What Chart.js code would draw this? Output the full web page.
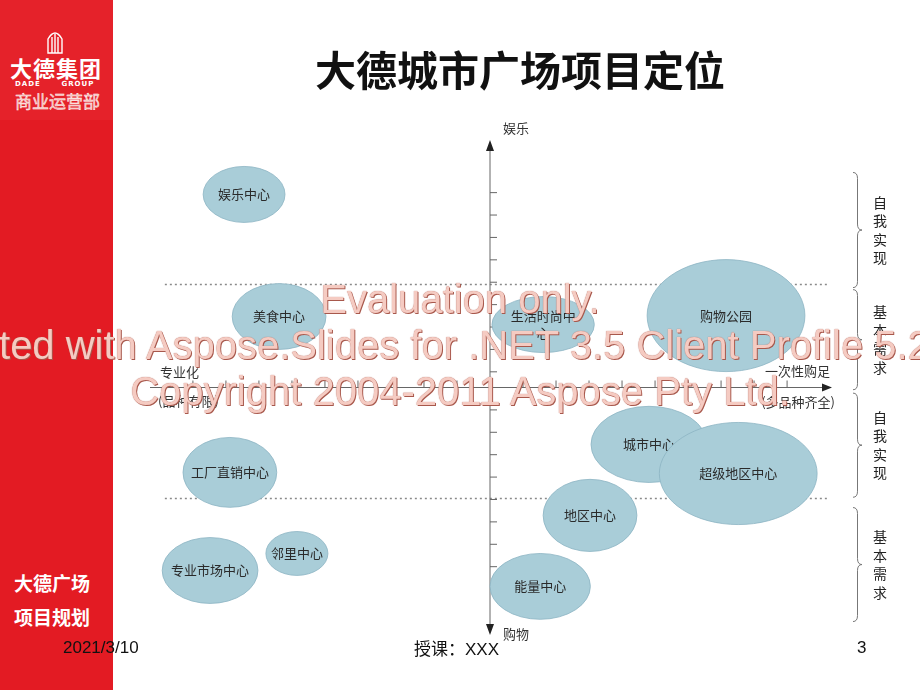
<!DOCTYPE html>
<html>
<head>
<meta charset="utf-8">
<script src="https://cdn.jsdelivr.net/npm/chart.js@4.4.0/dist/chart.umd.min.js"></script>
<style>
  body { margin: 0; background: #fff; }
  #page { position: relative; width: 920px; height: 690px; overflow: hidden; background: #fff; font-family: "Noto Sans CJK SC", sans-serif; }
  #sidebar { position: absolute; left: 0; top: 0; width: 113px; height: 690px; background: #e31b23; }
  #logo { position: absolute; left: 0; top: 0; width: 113px; height: 120px; background: #e5222a; }
  .side-txt { position: absolute; color: #fff; font-weight: bold; line-height: 1; white-space: nowrap; }
  #chart { position: absolute; left: 0; top: 0; }
  #title { position: absolute; left: 0; width: 920px; top: 43px; padding-left: 120px; box-sizing: border-box; text-align: center; font-size: 41px; font-weight: bold; color: #111; line-height: 50px; }
  .foot { position: absolute; top: 636px; font-size: 17px; color: #111; line-height: 24px; font-family: "Liberation Sans", Arial, sans-serif; }
  #watermark { position: absolute; left: -300px; width: 1520px; top: 276px; text-align: center; font-family: "Liberation Sans", Arial, sans-serif; font-size: 40px; line-height: 46px; color: #f5cbc2; text-shadow: 1px 1px 0 #a8584c, 0 0 1px #a8584c; pointer-events: none; white-space: nowrap; }
</style>
</head>
<body>
<div id="page">
  <div id="sidebar"></div>
  <div id="logo">
    <svg width="113" height="120" style="position:absolute;left:0;top:0">
      <g stroke="#fff" stroke-width="1.4" fill="none">
        <path d="M48 53 L48 39 Q55 27 62 39 L62 53 Z"/>
        <line x1="52" y1="37" x2="52" y2="53"/><line x1="55" y1="34" x2="55" y2="53"/><line x1="58" y1="37" x2="58" y2="53"/>
      </g>
    </svg>
    <div class="side-txt" style="left:10px;top:56px;font-size:22px;letter-spacing:1px;">大德集团</div>
    <div class="side-txt" style="left:15px;top:81px;font-size:7px;letter-spacing:1px;font-family:'DejaVu Sans';">DADE&nbsp;&nbsp;&nbsp;&nbsp;&nbsp;&nbsp;GROUP</div>
    <div class="side-txt" style="left:15px;top:92px;font-size:17px;font-weight:normal;color:#f3b7b2;-webkit-text-stroke:0.4px #fff;">商业运营部</div>
  </div>
  <div class="side-txt" style="left:14px;top:573px;font-size:19px;">大德广场</div>
  <div class="side-txt" style="left:14px;top:607px;font-size:19px;">项目规划</div>
  <canvas id="chart" width="920" height="690"></canvas>
  <div id="title">大德城市广场项目定位</div>
  <div class="foot" style="left:63px;">2021/3/10</div>
  <div class="foot" style="left:414px;font-family:'Noto Sans CJK SC';">授课：<span style="font-family:'Liberation Sans'">XXX</span></div>
  <div class="foot" style="left:857px;">3</div>
  <div id="watermark">Evaluation only.<br>Created with Aspose.Slides for .NET 3.5 Client Profile 5.2.0.0.<br>Copyright 2004-2011 Aspose Pty Ltd.</div>
</div>
<script>
// Positioning map data (axis units: x = 专业化 <-> 一次性购足, y = 购物 <-> 娱乐)
const centerNames = ['娱乐中心', '美食中心', '生活时尚中\n心', '购物公园', '城市中心', '超级地区中心', '地区中心', '能量中心', '工厂直销中心', '专业市场中心', '邻里中心'];
const centerX = [-7.45, -6.39, 1.61, 7.15, 4.82, 7.52, 3.03, 1.52, -7.88, -8.48, -5.85];
const centerY = [8.62, 3.17, 2.81, 3.21, -2.54, -3.84, -5.71, -8.88, -3.79, -8.17, -7.41];
const halfW = [1.24, 1.42, 1.55, 2.39, 1.76, 2.39, 1.42, 1.52, 1.42, 1.45, 0.94];
const halfH = [1.25, 1.47, 1.25, 2.50, 1.70, 2.28, 1.61, 1.47, 1.56, 1.47, 0.98];

const xTicks = [-9, -8, -7, -6, -5, -4, -3, -2, -1, 1, 2, 3, 4, 5, 6, 7, 8, 9];
const yTicks = [8.7, 7.7, 6.7, 5.7, 4.7, 3.7, 2.7, 1.7, 0.7, -1, -2, -3, -4, -5, -6, -7, -8, -9];
const dividerY = [4.6, -4.96];

const braceTop = [9.6, 4.37, -0.25, -5.36];
const braceBottom = [4.46, -0.1, -4.9, -10.45];
const braceLabels = ['自我实现', '基本需求', '自我实现', '基本需求'];

const axisPlugin = {
    id: 'axisPlugin',
    beforeDatasetsDraw(chart) {
        const ctx = chart.ctx;
        const xs = chart.scales.x, ys = chart.scales.y;
        const x0 = xs.getPixelForValue(0), y0 = ys.getPixelForValue(0);
        ctx.save();

        // dotted dividers
        ctx.strokeStyle = '#8a8a8a';
        ctx.lineWidth = 1.5;
        ctx.setLineDash([2, 3]);
        dividerY.forEach(v => {
            const py = ys.getPixelForValue(v);
            ctx.beginPath();
            ctx.moveTo(xs.getPixelForValue(-9.85), py);
            ctx.lineTo(xs.getPixelForValue(10.25), py);
            ctx.stroke();
        });
        ctx.setLineDash([]);

        // axes
        ctx.strokeStyle = '#666';
        ctx.fillStyle = '#222';
        ctx.lineWidth = 1;
        const left = xs.getPixelForValue(xs.min), right = xs.getPixelForValue(xs.max);
        const top = ys.getPixelForValue(ys.max), bottom = ys.getPixelForValue(ys.min);
        ctx.beginPath();
        ctx.moveTo(left, y0); ctx.lineTo(right - 6, y0);
        ctx.moveTo(x0, top + 8); ctx.lineTo(x0, bottom - 8);
        ctx.stroke();
        // arrow heads
        ctx.beginPath();
        ctx.moveTo(right + 2, y0); ctx.lineTo(right - 8, y0 - 4); ctx.lineTo(right - 8, y0 + 4); ctx.closePath();
        ctx.moveTo(x0, top); ctx.lineTo(x0 - 4, top + 11); ctx.lineTo(x0 + 4, top + 11); ctx.closePath();
        ctx.moveTo(x0, bottom); ctx.lineTo(x0 - 4, bottom - 11); ctx.lineTo(x0 + 4, bottom - 11); ctx.closePath();
        ctx.fill();

        // tick marks
        ctx.beginPath();
        xTicks.forEach(t => {
            const px = xs.getPixelForValue(t);
            ctx.moveTo(px, y0); ctx.lineTo(px, y0 - 7);
        });
        yTicks.forEach(t => {
            const py = ys.getPixelForValue(t);
            ctx.moveTo(x0, py); ctx.lineTo(x0 + 7, py);
        });
        ctx.stroke();

        // axis captions
        ctx.fillStyle = '#333';
        ctx.font = '13px "Noto Sans CJK SC"';
        ctx.textBaseline = 'middle';
        ctx.textAlign = 'left';
        ctx.fillText('娱乐', x0 + 13, top - 12);
        ctx.fillText('购物', x0 + 13, bottom - 1);
        ctx.fillText('专业化', left + 10, y0 - 15);
        ctx.fillText('(品种有限)', left + 8, y0 + 14);
        ctx.textAlign = 'right';
        ctx.fillText('一次性购足', right, y0 - 16);
        ctx.fillText('(多品种齐全)', right + 5, y0 + 15);

        // braces on the right
        ctx.strokeStyle = '#777';
        ctx.lineWidth = 1;
        const bx = right + 23, bw = 9, br = 6;
        braceTop.forEach((t, i) => {
            const y1 = ys.getPixelForValue(t), y2 = ys.getPixelForValue(braceBottom[i]);
            const ym = (y1 + y2) / 2, mx = bx + bw / 2;
            ctx.beginPath();
            ctx.moveTo(bx, y1);
            ctx.quadraticCurveTo(mx, y1, mx, y1 + br);
            ctx.lineTo(mx, ym - br);
            ctx.quadraticCurveTo(mx, ym, bx + bw, ym);
            ctx.quadraticCurveTo(mx, ym, mx, ym + br);
            ctx.lineTo(mx, y2 - br);
            ctx.quadraticCurveTo(mx, y2, bx, y2);
            ctx.stroke();

            ctx.fillStyle = '#222';
            ctx.font = '14px "Noto Sans CJK SC"';
            ctx.textAlign = 'center';
            const chars = braceLabels[i].split('');
            chars.forEach((c, k) => {
                ctx.fillText(c, bx + 27, ym + (k - (chars.length - 1) / 2) * 18.5);
            });
        });
        ctx.restore();
    },
    afterDatasetsDraw(chart) {
        const ctx = chart.ctx;
        const xs = chart.scales.x, ys = chart.scales.y;
        const meta = chart.getDatasetMeta(0);
        ctx.save();
        meta.data.forEach((el, i) => {
            const rx = xs.getPixelForValue(centerX[i] + halfW[i]) - el.x;
            const ry = el.y - ys.getPixelForValue(centerY[i] + halfH[i]);
            ctx.beginPath();
            ctx.ellipse(el.x, el.y, rx, ry, 0, 0, Math.PI * 2);
            ctx.fillStyle = '#a9cdd8';
            ctx.fill();
            ctx.strokeStyle = 'rgba(140,180,195,0.8)';
            ctx.lineWidth = 1;
            ctx.stroke();

            ctx.fillStyle = '#2a2a2a';
            ctx.font = '13px "Noto Sans CJK SC"';
            ctx.textAlign = 'center';
            ctx.textBaseline = 'middle';
            const lines = centerNames[i].split('\n');
            lines.forEach((line, k) => {
                ctx.fillText(line, el.x, el.y + (k - (lines.length - 1) / 2) * 17);
            });
        });
        ctx.restore();
    }
};

new Chart(document.getElementById('chart').getContext('2d'), {
    type: 'bubble',
    data: {
        datasets: [{
            data: centerX.map((x, i) => ({ x: x, y: centerY[i], r: 0 })),
            backgroundColor: 'rgba(0,0,0,0)',
            borderWidth: 0,
            hoverRadius: 0
        }]
    },
    options: {
        responsive: false,
        animation: false,
        devicePixelRatio: 1,
        layout: { padding: { left: 150, right: 90, top: 140, bottom: 55 } },
        plugins: { legend: { display: false }, tooltip: { enabled: false } },
        events: [],
        scales: {
            x: { type: 'linear', min: -10.3, max: 10.3, display: false },
            y: { type: 'linear', min: -11.05, max: 11.05, display: false }
        }
    },
    plugins: [axisPlugin]
});
</script>
</body>
</html>
